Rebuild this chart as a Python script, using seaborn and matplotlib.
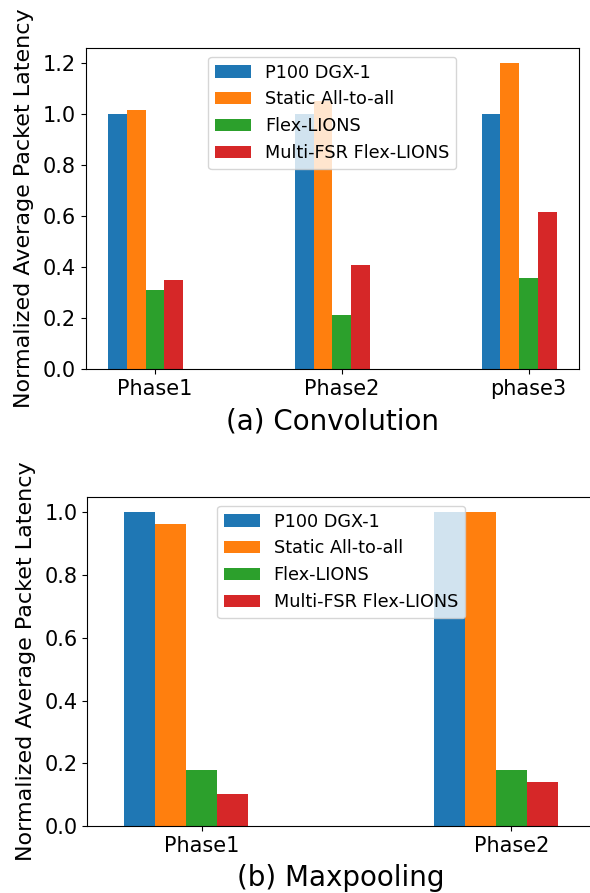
import seaborn as sns
import pandas as pd
import matplotlib.pyplot as plt

# values
systems = ["P100 DGX-1", "Static All-to-all", "Flex-LIONS", "Multi-FSR Flex-LIONS"]
colors = ["#1f77b4", "#ff7f0e", "#2ca02c", "#d62728"]

conv_phases = ["Phase1", "Phase2", "phase3"]
conv_p100 = [1.0, 1.0, 1.0]
conv_static = [1.017, 1.053, 1.2]
conv_flex = [0.31, 0.212, 0.357]
conv_multi = [0.351, 0.41, 0.618]

pool_phases = ["Phase1", "Phase2"]
pool_p100 = [1.0, 1.0]
pool_static = [0.962, 1.0]
pool_flex = [0.179, 0.179]
pool_multi = [0.103, 0.141]


def long_table(phases, series):
    rows = []
    for name, vals in zip(systems, series):
        for ph, v in zip(phases, vals):
            rows.append({"phase": ph, "system": name, "latency": v})
    return pd.DataFrame(rows)


conv = long_table(conv_phases, [conv_p100, conv_static, conv_flex, conv_multi])
pool = long_table(pool_phases, [pool_p100, pool_static, pool_flex, pool_multi])

fig = plt.figure(figsize=(5.9, 8.93), dpi=100)
ax1 = fig.add_axes([0.1453, 0.5865, 0.836, 0.3601])
ax2 = fig.add_axes([0.148, 0.075, 0.8605, 0.3688])

ylab = "Normalized Average Packet Latency"
for ax, df, phases, top, xlab in [
    (ax1, conv, conv_phases, 1.26, "(a) Convolution"),
    (ax2, pool, pool_phases, 1.05, "(b) Maxpooling"),
]:
    sns.barplot(data=df, x="phase", y="latency", hue="system", hue_order=systems,
                palette=colors, saturation=1, width=0.4, linewidth=0, ax=ax)
    n = len(phases)
    # ticks sit under the third bar of each group
    ax.set_xticks([i + 0.05 for i in range(n)])
    ax.set_xticklabels(phases, fontsize=15)
    ax.set_xlim(-0.32, n - 1 + 0.32)
    ax.set_ylim(0, top)
    ax.tick_params(axis="y", labelsize=15)
    ax.set_xlabel(xlab, fontsize=20, labelpad=6)
    ax.set_ylabel(ylab, fontsize=16, labelpad=6)
    ax.legend(loc="upper center", fontsize=12.7)

ax1.set_yticks([0, 0.2, 0.4, 0.6, 0.8, 1.0, 1.2])
ax2.set_yticks([0, 0.2, 0.4, 0.6, 0.8, 1.0])

plt.savefig("out.png")
plt.close()
